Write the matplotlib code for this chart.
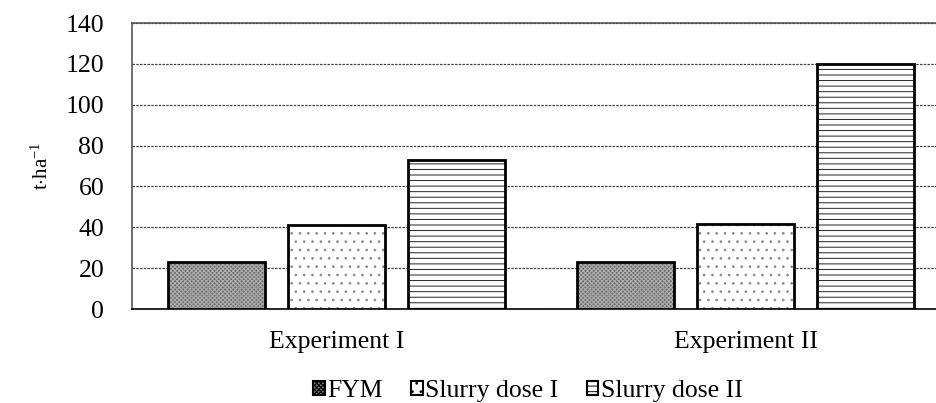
import numpy as np
import matplotlib.pyplot as plt
from matplotlib.patches import Patch

plt.rcParams['font.family'] = ['Liberation Serif', 'DejaVu Serif']
plt.rcParams['mathtext.fontset'] = 'custom'
plt.rcParams['mathtext.rm'] = 'Liberation Serif'
plt.rcParams['mathtext.it'] = 'Liberation Serif'
plt.rcParams['hatch.linewidth'] = 0.7

# data
groups = ['Experiment I', 'Experiment II']
series = ['FYM', 'Slurry dose I', 'Slurry dose II']
fym = [23, 23]
slurry_1 = [41, 41.5]
slurry_2 = [73, 120]
yticks = [0, 20, 40, 60, 80, 100, 120, 140]

# look of each series: face, hatch, hatch colour
styles = [('#707070', 'xxxxxxxx', '#b0b0b0'),
          ('white', '..', '#8a8a8a'),
          ('white', '---', '#222222')]

fig = plt.figure(figsize=(9.37, 4.03), dpi=100)
ax = fig.add_axes([132/937, 94/403, 1 - 132/937, (309-23)/403])

x = np.arange(len(groups))
w = 0.237
offsets = [-0.293, 0, 0.293]

for vals, off, (fc, hatch, hc) in zip([fym, slurry_1, slurry_2], offsets, styles):
    ax.bar(x + off, vals, w, color=fc, hatch=hatch, edgecolor=hc, linewidth=0, zorder=3)
    ax.bar(x + off, vals, w, fill=False, edgecolor='black', linewidth=2, zorder=4)

ax.set_xlim(-0.5, 1.468)
ax.set_ylim(0, 140)
ax.set_yticks(yticks)
ax.set_xticks(x)
ax.set_xticklabels(groups)
ax.tick_params(axis='both', length=0, labelsize=18.5)
ax.tick_params(axis='y', pad=20)
ax.tick_params(axis='x', pad=16)

ax.yaxis.grid(True, linestyle=(0, (2, 1)), color='#444444', linewidth=0.9, zorder=0)
ax.set_axisbelow(True)
for s in ['top', 'left']:
    ax.spines[s].set_color('#555555')
    ax.spines[s].set_linewidth(1.2)
ax.spines['right'].set_visible(False)
ax.spines['bottom'].set_color('black')
ax.spines['bottom'].set_linewidth(1.2)

ax.set_ylabel('t$\\cdot$ha$^{-1}$', fontsize=15, labelpad=9)

handles = [Patch(facecolor=fc, hatch=h, edgecolor='black', linewidth=1.5)
           for fc, h, hc in styles]
fig.legend(handles, series, loc='center', bbox_to_anchor=(528/937, 1 - 391/403),
           ncol=3, frameon=False, fontsize=18.5, handlelength=0.45, handleheight=0.45,
           handletextpad=0.1, columnspacing=1.1)

fig.savefig('out.png', dpi=100)
